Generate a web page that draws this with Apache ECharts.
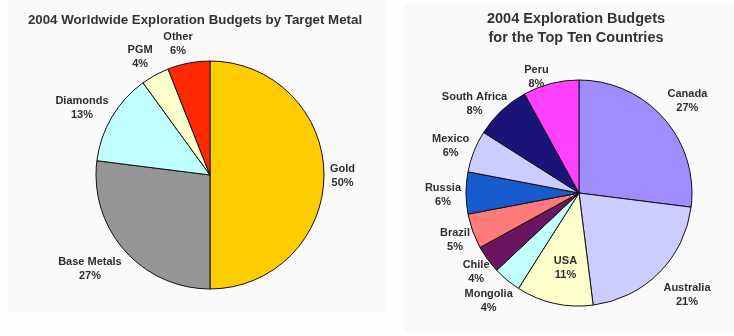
<!DOCTYPE html>
<html>
<head>
<meta charset="utf-8">
<script src="https://cdn.jsdelivr.net/npm/echarts@6/dist/echarts.min.js"></script>
<style>
html,body{margin:0;padding:0;background:#fefefe;}
#c{width:734px;height:336px;}
</style>
</head>
<body>
<div id="c"></div>
<script>
// ---- Data ----
const metalTitle = '2004 Worldwide Exploration Budgets by Target Metal';
const metalNames = ['Gold', 'Base Metals', 'Diamonds', 'PGM', 'Other'];
const metalValues = [50, 27, 13, 4, 6];

const countryTitle = '2004 Exploration Budgets\nfor the Top Ten Countries';
const countryNames = ['Canada', 'Australia', 'USA', 'Mongolia', 'Chile', 'Brazil', 'Russia', 'Mexico', 'South Africa', 'Peru'];
const countryValues = [27, 21, 11, 4, 4, 5, 6, 6, 8, 8];

// ---- Styles ----
const metalColors = ['#FFCC00', '#969696', '#BFFFFF', '#FFFFCC', '#FF2A00'];
const countryColors = ['#A08CFF', '#CCCCFF', '#FFFFCC', '#C4FFFF', '#6B145F', '#FF7A7A', '#175ACD', '#CCCCFF', '#1A1478', '#FF40FF'];
// small label nudges (pixels) to mimic the original label placement
const metalLabelNudge = [[1, 1], [1, 6], [1, 1], [0, -1], [5, 0]];
const countryLabelNudge = [[0, -5], [1, 9], [3, 1], [9, 6], [6, 1], [2, 2], [0, 2], [0, 2], [9, 7], [-1, 12]];

const leftPie = {cx: 210, cy: 175, r: 114};
const rightPie = {cx: 579, cy: 193, r: 113};

function makeLayout(geo, values, insideIdx, nudge) {
  const total = values.reduce((a, b) => a + b, 0);
  return function (params) {
    const i = params.dataIndex;
    let before = 0;
    for (let k = 0; k < i; k++) before += values[k];
    const mid = (before + values[i] / 2) / total * Math.PI * 2;
    const dx = Math.sin(mid), dy = -Math.cos(mid);
    const w = params.labelRect.width, h = params.labelRect.height;
    let x, y;
    if (i === insideIdx) {
      x = geo.cx + dx * geo.r * 0.67;
      y = geo.cy + dy * geo.r * 0.67;
    } else {
      const R = geo.r + 5;
      const px = geo.cx + dx * R, py = geo.cy + dy * R;
      x = px + (Math.abs(dx) < 1e-6 ? 0 : Math.sign(dx)) * w / 2;
      y = py + dy * h / 2;
    }
    x += nudge[i][0];
    y += nudge[i][1];
    return {x: x, y: y, align: 'center', verticalAlign: 'middle'};
  };
}

function buildData(names, values, colors) {
  return names.map((n, i) => ({name: n, value: values[i], itemStyle: {color: colors[i]}}));
}

const labelStyle = {
  show: true,
  position: 'inside',
  formatter: '{b}\n{c}%',
  fontFamily: 'Liberation Sans, Arial, sans-serif',
  fontSize: 11,
  fontWeight: 'bold',
  color: '#2e2e2e',
  lineHeight: 14,
  overflow: 'none'
};

const chart = echarts.init(document.getElementById('c'), null, {renderer: 'canvas'});
chart.setOption({
  animation: false,
  backgroundColor: '#fefefe',
  graphic: [
    {type: 'rect', z: -10, shape: {x: 8, y: 0, width: 378, height: 311}, style: {fill: '#fafafa'}},
    {type: 'rect', z: -10, shape: {x: 404, y: 5, width: 330, height: 327}, style: {fill: '#fafafa'}}
  ],
  title: [
    {text: metalTitle, left: 195, top: 12, textAlign: 'center', padding: 0,
     textStyle: {fontFamily: 'Liberation Sans, Arial, sans-serif', fontSize: 13.3, fontWeight: 'bold', color: '#333', lineHeight: 16}},
    {text: countryTitle, left: 576, top: 9, textAlign: 'center', padding: 0,
     textStyle: {fontFamily: 'Liberation Sans, Arial, sans-serif', fontSize: 14.5, fontWeight: 'bold', color: '#333', lineHeight: 19}}
  ],
  series: [
    {
      type: 'pie', silent: true,
      center: [leftPie.cx, leftPie.cy], radius: leftPie.r,
      startAngle: 90, clockwise: true,
      data: buildData(metalNames, metalValues, metalColors),
      itemStyle: {borderColor: '#111', borderWidth: 1},
      label: labelStyle,
      labelLine: {show: false},
      labelLayout: makeLayout(leftPie, metalValues, -1, metalLabelNudge)
    },
    {
      type: 'pie', silent: true,
      center: [rightPie.cx, rightPie.cy], radius: rightPie.r,
      startAngle: 90, clockwise: true,
      data: buildData(countryNames, countryValues, countryColors),
      itemStyle: {borderColor: '#111', borderWidth: 1},
      label: labelStyle,
      labelLine: {show: false},
      labelLayout: makeLayout(rightPie, countryValues, 2, countryLabelNudge)
    }
  ]
});
</script>
</body>
</html>
